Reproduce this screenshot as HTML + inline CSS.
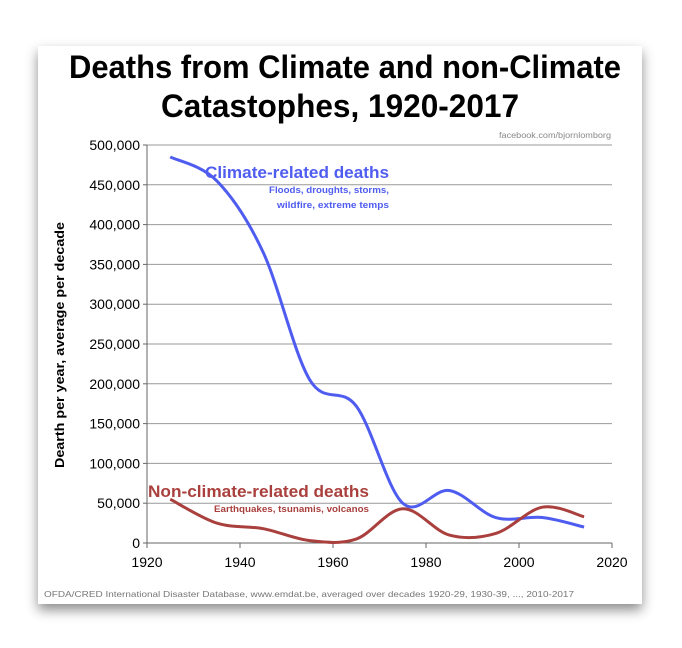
<!DOCTYPE html>
<html><head><meta charset="utf-8"><style>
body{margin:0;background:#fff;width:682px;height:648px;overflow:hidden}
svg{display:block}
</style></head><body>
<svg width="682" height="648" font-family="Liberation Sans, sans-serif">
<defs><filter id="sh" x="-10%" y="-10%" width="120%" height="125%"><feDropShadow dx="0" dy="6" stdDeviation="6" flood-color="#000" flood-opacity="0.45"/></filter></defs>
<rect x="38" y="46" width="604" height="558" fill="#fff" filter="url(#sh)"/>
<text x="345" y="78" text-anchor="middle" font-size="32" font-weight="bold" textLength="552" lengthAdjust="spacingAndGlyphs">Deaths from Climate and non-Climate</text>
<text x="340" y="117" text-anchor="middle" font-size="32" font-weight="bold" textLength="358" lengthAdjust="spacingAndGlyphs">Catastophes, 1920-2017</text>
<text x="611" y="138" text-anchor="end" font-size="8" fill="#888" textLength="112" lengthAdjust="spacingAndGlyphs">facebook.com/bjornlomborg</text>
<g id="grid"></g>
<g id="axes"></g>
<text transform="translate(64,345) rotate(-90)" text-anchor="middle" font-size="13" font-weight="bold" textLength="246" lengthAdjust="spacingAndGlyphs">Dearth per year, average per decade</text>
<path id="climate" fill="none" stroke="#4f5cf0" stroke-width="3"/>
<path id="nonclimate" fill="none" stroke="#a9403d" stroke-width="3"/>
<text x="389" y="178" text-anchor="end" font-size="17" font-weight="bold" fill="#4f5cf0" textLength="184" lengthAdjust="spacingAndGlyphs">Climate-related deaths</text>
<text x="389" y="193" text-anchor="end" font-size="9" font-weight="bold" fill="#4f5cf0" textLength="120" lengthAdjust="spacingAndGlyphs">Floods, droughts, storms,</text>
<text x="389" y="208" text-anchor="end" font-size="9" font-weight="bold" fill="#4f5cf0" textLength="112" lengthAdjust="spacingAndGlyphs">wildfire, extreme temps</text>
<text x="369" y="497" text-anchor="end" font-size="17" font-weight="bold" fill="#a9403d" textLength="221" lengthAdjust="spacingAndGlyphs">Non-climate-related deaths</text>
<text x="369" y="512" text-anchor="end" font-size="9" font-weight="bold" fill="#a9403d" textLength="155" lengthAdjust="spacingAndGlyphs">Earthquakes, tsunamis, volcanos</text>
<text x="44" y="597" font-size="8.5" fill="#777" textLength="530" lengthAdjust="spacingAndGlyphs">OFDA/CRED International Disaster Database, www.emdat.be, averaged over decades 1920-29, 1930-39, ..., 2010-2017</text>
</svg>
<script>
const years=[1925,1935,1945,1955,1965,1975,1985,1995,2005,2014];
const climate=[485000,455000,365000,205000,172000,50000,66000,32000,32000,20000];
const nonClimate=[55000,25000,18000,3000,5000,43000,10000,12000,45000,33000];
const yTicks=[0,50000,100000,150000,200000,250000,300000,350000,400000,450000,500000];
const xTicks=[1920,1940,1960,1980,2000,2020];
const X=v=>147+(v-1920)/100*465;
const Y=v=>543-v/500000*398;
const ns='http://www.w3.org/2000/svg';
const grid=document.getElementById('grid'),axes=document.getElementById('axes');
function mk(tag,at,parent){const e=document.createElementNS(ns,tag);for(const k in at)e.setAttribute(k,at[k]);parent.appendChild(e);return e;}
yTicks.forEach(t=>{
 const l=mk('line',{x1:X(1920),x2:X(2020),y1:Y(t),y2:Y(t),stroke:t?'#999':'#666','stroke-width':1},grid);
 
 
 const k=mk('line',{x1:X(1920)-4,x2:X(1920),y1:Y(t),y2:Y(t),stroke:'#666'},axes);
 
 
 const tx=mk('text',{x:X(1920)-7,y:Y(t)+5,'text-anchor':'end','font-size':14},axes);
 tx.textContent=t.toLocaleString('en-US');
 
 
});
const ax=mk('line',{x1:X(1920),x2:X(1920),y1:Y(0),y2:Y(500000),stroke:'#666'},axes);


xTicks.forEach(t=>{
 const k=mk('line',{x1:X(t),x2:X(t),y1:Y(0),y2:Y(0)+5,stroke:'#666'},axes);
 
 
 const tx=mk('text',{x:X(t),y:Y(0)+24,'text-anchor':'middle','font-size':14},axes);
 tx.textContent=t;
 
 
});
function smooth(xs,ys){
 const p=xs.map((x,i)=>[X(x),Y(ys[i])]);
 let d='M'+p[0][0]+','+p[0][1];
 for(let i=0;i<p.length-1;i++){
  const p0=p[i-1]||p[i],p1=p[i],p2=p[i+1],p3=p[i+2]||p2;
  const c1=[p1[0]+(p2[0]-p0[0])/6,p1[1]+(p2[1]-p0[1])/6];
  const c2=[p2[0]-(p3[0]-p1[0])/6,p2[1]-(p3[1]-p1[1])/6];
  d+=` C${c1[0]},${c1[1]} ${c2[0]},${c2[1]} ${p2[0]},${p2[1]}`;
 }
 return d;
}
document.getElementById('climate').setAttribute('d',smooth(years,climate));
document.getElementById('nonclimate').setAttribute('d',smooth(years,nonClimate));
</script>
</body></html>
